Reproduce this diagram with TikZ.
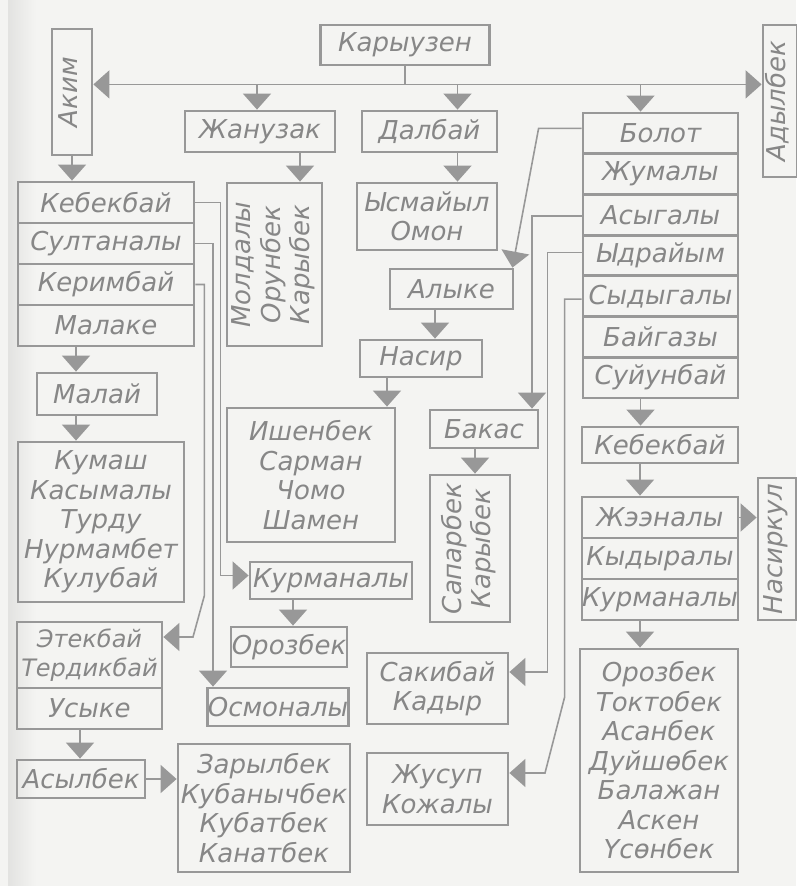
\documentclass[tikz,border=0pt]{standalone}
\usepackage{fontspec}
\setmainfont{DejaVu Sans}
\usetikzlibrary{arrows.meta}
\definecolor{ink}{HTML}{989898}
\definecolor{txt}{HTML}{878787}
\definecolor{paper}{HTML}{F4F4F2}
\newcommand{\rtxt}[1]{\rotatebox{90}{\begin{tabular}{@{}c@{}}#1\end{tabular}}}
\begin{document}
\begin{tikzpicture}[x=1pt,y=-1pt,
  bx/.style={draw=ink, line width=2.8pt, inner sep=0pt, text=txt, align=center,
    font=\fontsize{26}{29.5}\selectfont\itshape},
  conn/.style={draw=ink, line width=1.6pt},
  arr/.style={conn, -{Triangle[width=28pt,length=16pt]}},
]
\fill[paper] (0,0) rectangle (796,886);
\shade[left color=paper!85!gray, right color=paper] (8,0) rectangle (36,886);
\useasboundingbox (0,0) rectangle (796,886);

% top
\node[bx, minimum width=169, minimum height=40] (kar) at (405,45) {Карыузен};
\node[bx, minimum width=40, minimum height=126] (akim) at (72,92) {\rtxt{Аким}};
\node[bx, minimum width=34, minimum height=152] (adyl) at (780,101) {\rtxt{Адылбек}};
\node[bx, minimum width=150, minimum height=41] (zhan) at (260,131.5) {Жанузак};
\node[bx, minimum width=135, minimum height=41] (dalb) at (429.5,131.5) {Далбай};

% right stack
\node[bx, minimum width=155, minimum height=40.7] (bolot) at (660.5,133.35) {Болот};
\node[bx, minimum width=155, minimum height=40.7] (zhum) at (660.5,174.05) {Жумалы};
\node[bx, minimum width=155, minimum height=40.7] (asyg) at (660.5,214.75) {Асыгалы};
\node[bx, minimum width=155, minimum height=40.7] (ydr) at (660.5,255.45) {Ыдрайым};
\node[bx, minimum width=155, minimum height=40.7] (syd) at (660.5,296.15) {Сыдыгалы};
\node[bx, minimum width=155, minimum height=40.7] (baig) at (660.5,336.85) {Байгазы};
\node[bx, minimum width=155, minimum height=40.7] (suyun) at (660.5,377.55) {Суйунбай};

\node[bx, minimum width=156, minimum height=36] (kebR) at (660,445) {Кебекбай};
\node[bx, minimum width=156, minimum height=41] (zheen) at (660,517.5) {Жээналы};
\node[bx, minimum width=156, minimum height=41] (kydyr) at (660,558.5) {Кыдыралы};
\node[bx, minimum width=156, minimum height=41] (kurmR) at (660,599.5) {Курманалы};
\node[bx, minimum width=38, minimum height=142] (nasirkul) at (777,549) {\rtxt{Насиркул}};
\node[bx, minimum width=158, minimum height=223] (orozR) at (659,760.5)
  {Орозбек\\Токтобек\\Асанбек\\Дуйшөбек\\Балажан\\Аскен\\Үсөнбек};

% left stack
\node[bx, minimum width=176, minimum height=41] (keb) at (106,202.5) {Кебекбай};
\node[bx, minimum width=176, minimum height=41] (sultan) at (106,243.5) {Султаналы};
\node[bx, minimum width=176, minimum height=41] (kerim) at (106,284.5) {Керимбай};
\node[bx, minimum width=176, minimum height=41] (malake) at (106,325.5) {Малаке};
\node[bx, minimum width=120, minimum height=42] (malai) at (97,394) {Малай};
\node[bx, minimum width=166, minimum height=160] (kumash) at (101,522)
  {Кумаш\\Касымалы\\Турду\\Нурмамбет\\Кулубай};
\node[bx, minimum width=145, minimum height=66, font=\fontsize{24}{29.5}\selectfont\itshape]
  (etek) at (89.5,655) {Этекбай\\Тердикбай};
\node[bx, minimum width=145, minimum height=41] (usyke) at (89.5,708.5) {Усыке};
\node[bx, minimum width=128, minimum height=38] (asyl) at (81,779) {Асылбек};
\node[bx, minimum width=172, minimum height=128] (zaryl) at (264,808)
  {Зарылбек\\Кубанычбек\\Кубатбек\\Канатбек};

% middle
\node[bx, minimum width=95, minimum height=163] (moldaly) at (274.5,264.5)
  {\rtxt{Молдалы\\Орунбек\\Карыбек}};
\node[bx, minimum width=140, minimum height=67] (ismail) at (427,216.5) {Ысмайыл\\Омон};
\node[bx, minimum width=123, minimum height=40] (alyke) at (451.5,289) {Алыке};
\node[bx, minimum width=122, minimum height=37] (nasir) at (421,358.5) {Насир};
\node[bx, minimum width=168, minimum height=134] (ishen) at (311,475)
  {Ишенбек\\Сарман\\Чомо\\Шамен};
\node[bx, minimum width=108, minimum height=38] (bakas) at (484,429) {Бакас};
\node[bx, minimum width=80, minimum height=147] (sapar) at (470,548.5)
  {\rtxt{Сапарбек\\Карыбек}};
\node[bx, minimum width=162, minimum height=37] (kurmM) at (331,580.5) {Курманалы};
\node[bx, minimum width=116, minimum height=40] (orozM) at (289,647) {Орозбек};
\node[bx, minimum width=140, minimum height=38] (osmon) at (278,707) {Осмоналы};
\node[bx, minimum width=141, minimum height=71] (sakib) at (437.5,688.5) {Сакибай\\Кадыр};
\node[bx, minimum width=141, minimum height=72] (zhusup) at (437.5,789) {Жусуп\\Кожалы};

% connectors
\path (kar.south) ++(0,18) coordinate (bus);
\draw[conn] (kar.south) -- (bus);
\draw[arr] (bus) -- (akim.east |- bus);
\draw[arr] (bus) -- (adyl.west |- bus);
\draw[arr] ([xshift=-3pt]zhan.north |- bus) -- ([xshift=-3pt]zhan.north);
\draw[arr] ([xshift=28pt]dalb.north |- bus) -- ([xshift=28pt]dalb.north);
\draw[arr] ([xshift=-20pt]bolot.north |- bus) -- ([xshift=-20pt]bolot.north);

\draw[arr] (akim.south) -- (akim.south |- keb.north);
\draw[arr] ([xshift=40pt]zhan.south) -- ([xshift=40pt]zhan.south |- moldaly.north);
\draw[arr] ([xshift=28pt]dalb.south) -- ([xshift=28pt]dalb.south |- ismail.north);

\draw[arr] ([yshift=5pt]bolot.west) -- ++(-43,0) -- ([xshift=-2pt]alyke.north east);
\draw[arr] ([yshift=-1pt]asyg.west) -| ([xshift=48pt]bakas.north);
\draw[arr] ([yshift=3pt]ydr.west) -- ++(-34,0) |- ([yshift=16.5pt]sakib.east);
\draw[arr] ([yshift=-3pt]syd.west) -- ++(-17,0) -- ++(0,398) -- (545,773) -- ([yshift=16pt]zhusup.east);

\draw[arr] ([xshift=-20pt]suyun.south) -- ([xshift=-20pt]suyun.south |- kebR.north);
\draw[arr] ([xshift=-20pt]kebR.south) -- ([xshift=-20pt]kebR.south |- zheen.north);
\draw[arr] (zheen.east) -- (zheen.east -| nasirkul.west);
\draw[arr] ([xshift=-20pt]kurmR.south) -- ([xshift=-20pt]kurmR.south |- orozR.north);

\draw[arr] (keb.east) -- ++(25,0) |- ([yshift=5pt]kurmM.west);
\draw[arr] (sultan.east) -| ([xshift=-65pt]osmon.north);
\draw[arr] (kerim.east) -- ++(9,0) -- ++(0,311) -- (193,637) -- ([yshift=18pt]etek.east);

\draw[arr] ([xshift=-30pt]malake.south) -- ([xshift=-30pt]malake.south |- malai.north);
\draw[arr] ([xshift=-21pt]malai.south) -- ([xshift=-21pt]malai.south |- kumash.north);
\draw[arr] ([xshift=-9.5pt]usyke.south) -- ([xshift=-9.5pt]usyke.south |- asyl.north);
\draw[arr] (asyl.east) -- (asyl.east -| zaryl.west);

\draw[arr] ([xshift=-16.5pt]alyke.south) -- ([xshift=-16.5pt]alyke.south |- nasir.north);
\draw[arr] ([xshift=-34pt]nasir.south) -- ([xshift=-34pt]nasir.south |- ishen.north);
\draw[arr] ([xshift=-9pt]bakas.south) -- ([xshift=-9pt]bakas.south |- sapar.north);
\draw[arr] ([xshift=-38pt]kurmM.south) -- ([xshift=-38pt]kurmM.south |- orozM.north);
\end{tikzpicture}
\end{document}
